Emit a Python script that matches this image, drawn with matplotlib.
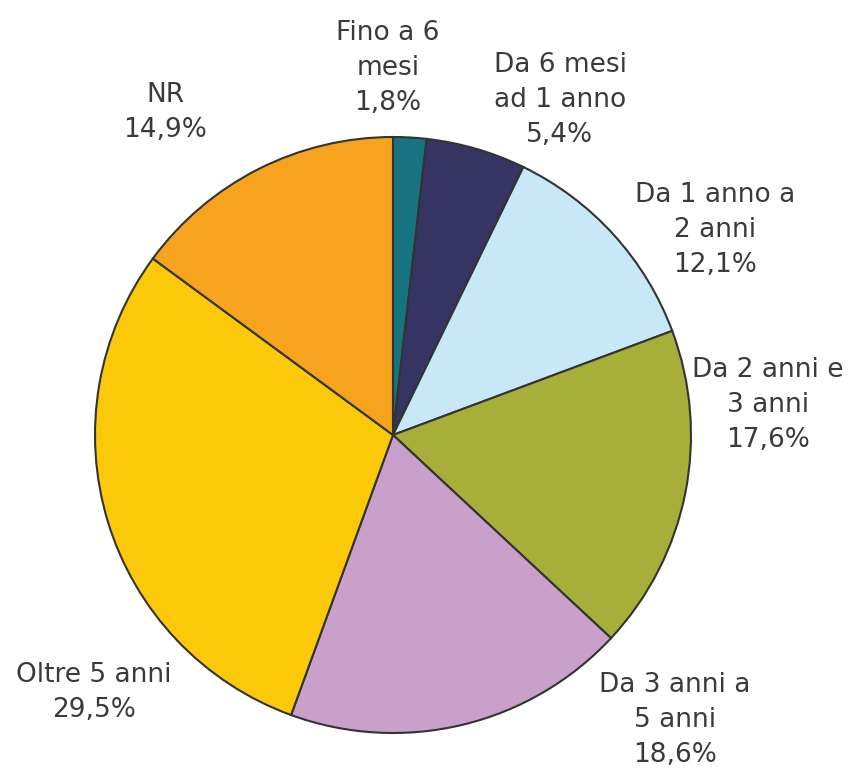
import matplotlib
matplotlib.use("Agg")
import matplotlib.pyplot as plt

# data
categories = ["Fino a 6\nmesi", "Da 6 mesi\nad 1 anno", "Da 1 anno a\n2 anni",
              "Da 2 anni e\n3 anni", "Da 3 anni a\n5 anni", "Oltre 5 anni", "NR"]
values = [1.8, 5.4, 12.1, 17.6, 18.6, 29.5, 14.9]
colors = ["#167480", "#353462", "#c8e8f8", "#a8ae3a", "#c8a0ca", "#fcc80a", "#f6a31e"]

# label centres in pixels of the 850x774 image (layout only)
label_px = [(388, 68), (560, 100), (715, 230), (768, 405), (675, 720), (94, 692), (165, 112)]

W, H = 850, 774
cx, cy, r = 393, 435, 298

fig = plt.figure(figsize=(W / 100, H / 100), dpi=100)
ax = fig.add_axes([(cx - r) / W, (H - cy - r) / H, 2 * r / W, 2 * r / H])
ax.pie(values, colors=colors, startangle=90, counterclock=False, radius=1,
       wedgeprops=dict(edgecolor="#333333", linewidth=1.5))
ax.set_xlim(-1, 1)
ax.set_ylim(-1, 1)
ax.set_aspect("equal")
ax.axis("off")

for cat, v, (px, py) in zip(categories, values, label_px):
    txt = cat + "\n" + ("%.1f%%" % v).replace(".", ",")
    ax.text((px - cx) / r, (cy - py) / r, txt, ha="center", va="center",
            fontsize=19, color="#3a3a3a", family="DejaVu Sans", linespacing=1.45,
            clip_on=False)

fig.savefig("out.png", dpi=100)
